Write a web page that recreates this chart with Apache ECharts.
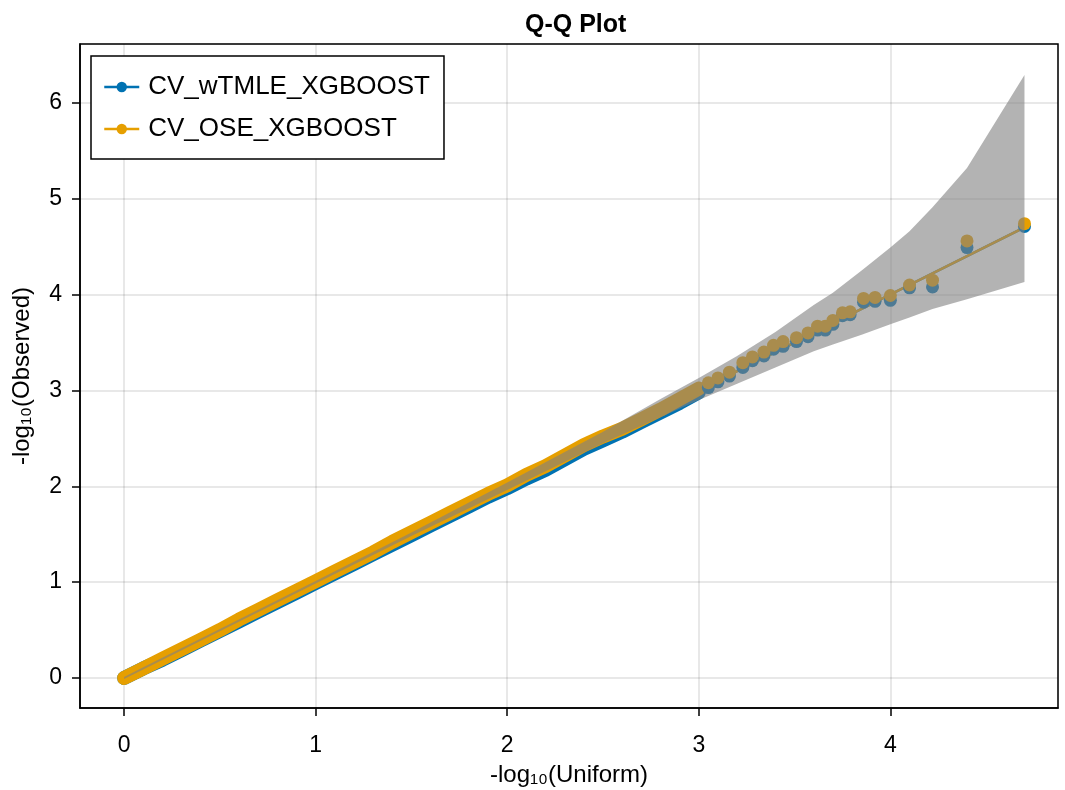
<!DOCTYPE html>
<html>
<head>
<meta charset="utf-8">
<title>Q-Q Plot</title>
<script src="https://cdn.jsdelivr.net/npm/echarts@6/dist/echarts.min.js"></script>
<style>
  html, body { margin: 0; padding: 0; background: #fff; }
  #chart { width: 1065px; height: 790px; }
</style>
</head>
<body>
<div id="chart"></div>
<script>
// Expected -log10(p) for the dense body of the distribution
const bodyX = [0.0, 0.1, 0.2, 0.3, 0.4, 0.5, 0.6, 0.7, 0.8, 0.9, 1.0, 1.1, 1.2, 1.3, 1.4, 1.5,
               1.6, 1.7, 1.8, 1.9, 2.0, 2.1, 2.2, 2.3, 2.4, 2.5, 2.6, 2.7, 2.8, 2.9, 3.0];
const bodyOSE = [0.0, 0.10, 0.20, 0.30, 0.40, 0.50, 0.61, 0.71, 0.81, 0.91, 1.01, 1.11, 1.21, 1.31, 1.42, 1.52,
                 1.62, 1.72, 1.82, 1.92, 2.01, 2.12, 2.21, 2.32, 2.43, 2.52, 2.60, 2.70, 2.80, 2.91, 3.02];
const bodyWTMLE = [0.0, 0.10, 0.19, 0.29, 0.39, 0.49, 0.59, 0.69, 0.79, 0.89, 0.99, 1.09, 1.19, 1.29, 1.39, 1.49,
                   1.59, 1.69, 1.79, 1.89, 1.98, 2.08, 2.17, 2.28, 2.39, 2.48, 2.57, 2.67, 2.77, 2.87, 2.98];

// Sparse upper tail: individual order statistics
const tailX = [3.05, 3.10, 3.16, 3.23, 3.28, 3.34, 3.39, 3.44, 3.51, 3.57, 3.62, 3.66, 3.70, 3.75, 3.79,
               3.86, 3.92, 4.00, 4.10, 4.22, 4.40, 4.70];
const tailOSE = [3.08, 3.13, 3.19, 3.29, 3.35, 3.40, 3.47, 3.51, 3.55, 3.60, 3.67, 3.67, 3.73, 3.81, 3.82,
                 3.96, 3.97, 3.99, 4.10, 4.15, 4.56, 4.74];
const tailWTMLE = [3.03, 3.09, 3.15, 3.24, 3.31, 3.36, 3.43, 3.46, 3.51, 3.56, 3.63, 3.63, 3.69, 3.78, 3.79,
                   3.92, 3.93, 3.94, 4.07, 4.08, 4.49, 4.71];

// Identity reference line end points
const refLine = [0, 4.70];

// 95% confidence band around the expected quantiles
const bandX  = [0.00, 0.10, 0.50, 1.00, 1.50, 2.00, 2.50, 2.80, 3.00, 3.20, 3.40, 3.60, 3.70, 3.85, 4.00, 4.10, 4.22, 4.40, 4.70];
const bandHi = [0.01, 0.112, 0.512, 1.013, 1.518, 2.04, 2.57, 2.91, 3.13, 3.36, 3.61, 3.89, 4.02, 4.25, 4.49, 4.66, 4.91, 5.32, 6.29];
const bandLo = [-0.01, 0.088, 0.488, 0.987, 1.482, 1.96, 2.45, 2.72, 2.90, 3.07, 3.24, 3.41, 3.48, 3.58, 3.69, 3.76, 3.85, 3.95, 4.13];

const seriesNames = ['CV_wTMLE_XGBOOST', 'CV_OSE_XGBOOST'];
const colors = ['#0072B2', '#E69F00'];

const FONT = '"Liberation Sans", Arial, Helvetica, sans-serif';

function zip(xs, ys) { return xs.map((x, i) => [x, ys[i]]); }

function groupSeries(name, color, bodyY, tailY) {
  return [
    {
      name, type: 'line', color,
      data: zip(refLine, refLine),
      symbol: 'none',
      lineStyle: { color, width: 2.5 },
      z: 2
    },
    {
      name, type: 'line', color,
      data: zip(bodyX, bodyY),
      symbol: 'none',
      lineStyle: { color, width: 14, cap: 'round', join: 'round' },
      z: 3
    },
    {
      name, type: 'scatter', color,
      data: zip(tailX, tailY),
      symbol: 'circle', symbolSize: 13,
      itemStyle: { color, opacity: 1 },
      z: 3
    }
  ];
}

const chart = echarts.init(document.getElementById('chart'), null, { renderer: 'canvas' });

const axisCommon = {
  type: 'value',
  axisLine: { show: true, onZero: false, lineStyle: { color: '#000', width: 1.5 } },
  axisTick: { show: true, inside: false, length: 8, lineStyle: { color: '#000', width: 1.5 } },
  axisLabel: { color: '#000', fontSize: 23, fontFamily: FONT, showMinLabel: false, showMaxLabel: false },
  splitLine: { show: true, lineStyle: { color: 'rgba(0,0,0,0.12)', width: 1.5 } },
  minInterval: 1, maxInterval: 1,
  nameLocation: 'middle',
  nameTextStyle: { color: '#000', fontSize: 24, fontFamily: FONT }
};

chart.setOption({
  animation: false,
  backgroundColor: '#fff',
  title: {
    text: 'Q-Q Plot',
    left: 520, top: 8,
    textStyle: { fontSize: 25, fontWeight: 'bold', color: '#000', fontFamily: FONT }
  },
  grid: {
    left: 80, right: 7, top: 44, bottom: 82,
    outerBoundsMode: 'none',
    containLabel: false,
    show: true, borderColor: '#000', borderWidth: 1.5, backgroundColor: 'transparent'
  },
  legend: {
    data: seriesNames,
    orient: 'vertical',
    left: 91, top: 56,
    padding: [18, 14, 17, 12],
    itemGap: 16,
    itemWidth: 35, itemHeight: 13,
    backgroundColor: '#fff',
    borderColor: '#000', borderWidth: 1.5,
    textStyle: { fontSize: 26, color: '#000', fontFamily: FONT, padding: [0, 0, 0, 4] },
    lineStyle: { width: 2.5 }
  },
  xAxis: Object.assign({}, axisCommon, {
    min: -0.23, max: 4.875,
    name: '-log₁₀(Uniform)',
    nameGap: 55,
    axisLabel: Object.assign({}, axisCommon.axisLabel, { margin: 26 })
  }),
  yAxis: Object.assign({}, axisCommon, {
    min: -0.313, max: 6.614,
    name: '-log₁₀(Observed)',
    nameGap: 46,
    axisLabel: Object.assign({}, axisCommon.axisLabel, { margin: 18 })
  }),
  series: [
    ...groupSeries(seriesNames[0], colors[0], bodyWTMLE, tailWTMLE),
    ...groupSeries(seriesNames[1], colors[1], bodyOSE, tailOSE),
    {
      name: 'band',
      type: 'custom',
      silent: true,
      z: 6,
      data: [[0, 0]],
      renderItem: function (params, api) {
        const pts = [];
        for (let i = 0; i < bandX.length; i++) pts.push(api.coord([bandX[i], bandHi[i]]));
        for (let i = bandX.length - 1; i >= 0; i--) pts.push(api.coord([bandX[i], bandLo[i]]));
        return {
          type: 'polygon',
          shape: { points: pts },
          style: { fill: 'rgba(128,128,128,0.6)' }
        };
      }
    }
  ]
});
</script>
</body>
</html>
